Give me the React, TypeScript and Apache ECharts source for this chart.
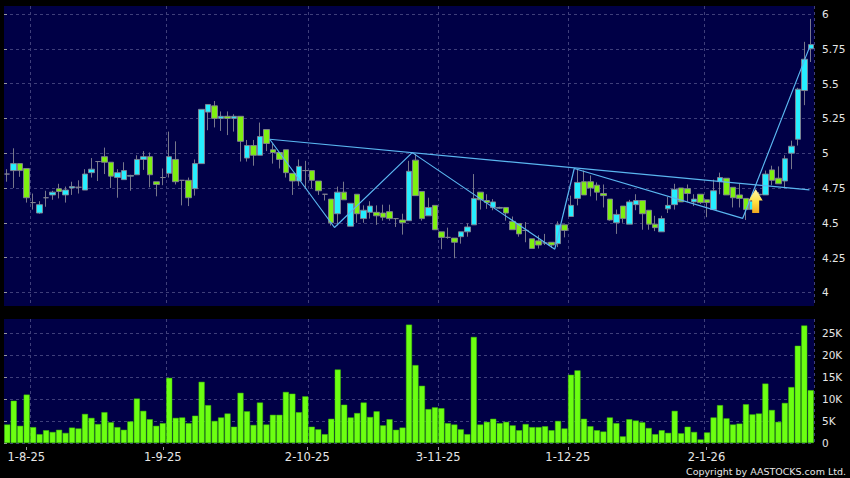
import React, { useEffect, useRef } from "react";
import * as echarts from "echarts";

const opens = [4.85,4.875,4.925,4.89,4.645,4.57,4.68,4.70,4.745,4.70,4.75,4.755,4.735,4.86,4.94,4.975,4.935,4.825,4.81,4.835,4.845,4.955,4.975,4.795,4.825,4.855,4.955,4.805,4.805,4.745,4.925,5.295,5.34,5.25,5.265,5.25,5.265,4.965,5.055,4.985,5.17,5.025,5.005,5.025,4.855,4.80,4.875,4.875,4.80,4.705,4.67,4.565,4.72,4.475,4.705,4.53,4.575,4.575,4.57,4.58,4.53,4.52,4.515,4.95,4.725,4.55,4.625,4.435,4.395,4.39,4.40,4.435,4.485,4.72,4.66,4.61,4.605,4.61,4.51,4.495,4.445,4.385,4.37,4.355,4.36,4.35,4.485,4.545,4.675,4.795,4.795,4.77,4.71,4.67,4.50,4.62,4.49,4.63,4.66,4.59,4.49,4.435,4.60,4.63,4.75,4.745,4.65,4.705,4.665,4.595,4.795,4.82,4.755,4.70,4.675,4.595,4.70,4.70,4.88,4.82,4.80,5.00,5.10,5.45,5.75];
const closes = [4.85,4.925,4.875,4.68,4.645,4.63,4.68,4.72,4.725,4.735,4.76,4.755,4.85,4.885,4.94,4.935,4.835,4.86,4.875,4.84,4.955,4.975,4.845,4.775,4.825,4.975,4.795,4.805,4.68,4.925,5.315,5.35,5.25,5.265,5.25,5.265,5.085,5.055,4.985,5.12,5.07,5.005,4.955,4.86,4.80,4.905,4.875,4.805,4.73,4.705,4.50,4.72,4.665,4.64,4.565,4.59,4.62,4.55,4.54,4.53,4.53,4.50,4.87,4.695,4.53,4.61,4.45,4.395,4.395,4.36,4.435,4.47,4.675,4.665,4.645,4.65,4.61,4.57,4.45,4.42,4.445,4.315,4.34,4.355,4.34,4.485,4.445,4.625,4.79,4.70,4.75,4.72,4.695,4.52,4.56,4.53,4.65,4.66,4.565,4.49,4.465,4.53,4.625,4.74,4.65,4.71,4.67,4.645,4.645,4.73,4.825,4.70,4.68,4.675,4.595,4.655,4.705,4.85,4.805,4.78,4.96,5.05,5.46,5.675,5.78];
const lows = [4.795,4.75,4.83,4.645,4.595,4.565,4.615,4.665,4.675,4.645,4.70,4.71,4.735,4.825,4.80,4.85,4.75,4.68,4.81,4.73,4.845,4.88,4.755,4.69,4.77,4.825,4.775,4.625,4.62,4.695,4.925,5.165,5.185,5.16,5.13,5.155,4.94,4.94,4.91,4.985,5.015,4.925,4.89,4.825,4.70,4.765,4.745,4.75,4.70,4.66,4.48,4.48,4.665,4.475,4.50,4.50,4.53,4.485,4.515,4.515,4.47,4.415,4.515,4.695,4.515,4.55,4.45,4.31,4.385,4.245,4.35,4.40,4.485,4.595,4.60,4.59,4.60,4.515,4.45,4.40,4.36,4.315,4.315,4.34,4.32,4.325,4.395,4.545,4.625,4.70,4.69,4.66,4.61,4.515,4.42,4.50,4.49,4.59,4.45,4.45,4.44,4.435,4.57,4.595,4.65,4.65,4.62,4.635,4.54,4.595,4.705,4.70,4.61,4.61,4.52,4.595,4.66,4.70,4.77,4.78,4.755,4.885,5.055,5.345,5.655];
const highs = [4.885,5.035,4.925,4.89,4.71,4.655,4.73,4.73,4.78,4.76,4.795,4.805,4.885,4.965,4.94,5.04,4.935,4.885,4.935,4.845,4.985,5.015,5.005,4.795,4.89,5.155,5.085,4.805,4.825,4.955,5.315,5.35,5.375,5.30,5.30,5.28,5.265,5.095,5.095,5.22,5.17,5.07,5.005,5.025,4.855,4.955,4.945,4.875,4.80,4.705,4.67,4.76,4.795,4.64,4.705,4.625,4.655,4.625,4.63,4.63,4.53,4.565,4.945,4.995,4.725,4.68,4.625,4.435,4.465,4.39,4.435,4.495,4.85,4.72,4.705,4.67,4.615,4.61,4.545,4.495,4.505,4.385,4.41,4.42,4.36,4.51,4.485,4.695,4.885,4.875,4.84,4.79,4.775,4.67,4.595,4.62,4.665,4.705,4.66,4.59,4.55,4.55,4.685,4.78,4.75,4.775,4.705,4.705,4.665,4.81,4.86,4.82,4.755,4.78,4.675,4.72,4.72,4.875,4.91,4.905,4.985,5.09,5.47,5.80,5.965];
const volumes = [4.2,9.6,3.9,11.0,3.6,2.0,2.9,2.5,3.0,2.3,3.5,3.3,6.6,5.7,4.3,7.0,4.7,3.6,3.0,4.9,10.1,7.3,5.4,3.9,4.5,14.8,5.7,5.8,4.5,6.2,13.9,8.6,5.0,5.8,6.7,3.7,11.4,7.2,4.1,9.2,4.2,6.4,6.4,11.6,11.2,7.0,10.6,3.7,3.1,2.0,5.5,16.7,8.7,5.8,6.8,9.2,5.9,7.2,4.0,5.4,3.0,3.5,26.9,17.7,13.0,7.7,8.1,7.9,4.5,4.2,3.1,2.0,24.1,4.2,4.8,5.5,4.5,4.8,4.0,2.9,4.3,3.6,3.6,3.8,2.9,5.0,3.3,15.5,16.5,5.5,3.8,2.9,2.6,5.8,4.5,1.5,5.4,5.1,4.7,3.4,2.0,2.9,2.3,7.3,2.2,3.7,2.5,0.8,2.4,5.8,8.6,5.6,4.2,4.4,8.8,6.5,6.7,13.5,7.5,4.8,9.1,12.7,22.1,26.7,12.0];

const dateLabels = ["1-8-25", "1-9-25", "2-10-25", "3-11-25", "1-12-25", "2-1-26"];
const dateTickPositions = [3.44, 24.5, 46.8, 67.0, 87.0, 108.4];
const monthGridBands = [4, 25, 47, 67, 87, 108];
const priceTicks = [4, 4.25, 4.5, 4.75, 5, 5.25, 5.5, 5.75, 6];
const volumeTicks = [0, 5, 10, 15, 20, 25];
const zigzag = [[41, 5.1], [51, 4.466], [63, 5.004], [85, 4.31], [88, 4.89], [114, 4.532], [124.3, 5.76]];
const neckline = [[41, 5.1], [124.3, 4.736]];
const arrowPoint = [[116, 4.657]];
const copyright = "Copyright by AASTOCKS.com Ltd.";

const indices = opens.map((_, i) => String(i));
const FONT = "DejaVu Sans";
const GRID_LINE = { show: true, lineStyle: { color: "#3f3f7a", type: [3, 3] as any, width: 1 } };
const ARROW = "path://M7 0 L14 11 L10.5 11 L10.5 23 L3.5 23 L3.5 11 L0 11 Z";

export default function App() {
  const ref = useRef<HTMLDivElement>(null);
  useEffect(() => {
    const chart = echarts.init(ref.current!, undefined, { renderer: "svg" });
    const vGrid = {
      ...GRID_LINE,
      interval: (i: number) => monthGridBands.includes(i),
    };
    const panelX = (gridIndex: number) => ({
      type: "category" as const,
      gridIndex,
      data: indices,
      boundaryGap: true,
      axisLine: { show: false },
      axisTick: { show: false },
      axisLabel: { show: false },
      splitLine: vGrid,
    });
    const panelY = (
      gridIndex: number,
      min: number,
      max: number,
      ticks: number[],
      fmt: (v: number) => string
    ) => ({
      type: "value" as const,
      gridIndex,
      position: "right" as const,
      offset: 4,
      min,
      max,
      axisLine: { show: false },
      axisTick: { show: true, length: 3, customValues: ticks, lineStyle: { color: "#999" } },
      axisLabel: {
        show: true,
        customValues: ticks,
        margin: 4,
        color: "#e6e6e6",
        fontFamily: FONT,
        fontSize: 10.5,
        formatter: fmt,
      },
      splitLine: GRID_LINE,
    });
    chart.setOption({
      animation: false,
      backgroundColor: "#000000",
      grid: [
        { left: 4, top: 6, width: 810, height: 300, show: true, backgroundColor: "#000046", borderWidth: 0 },
        { left: 4, top: 319, width: 810, height: 124, show: true, backgroundColor: "#000046", borderWidth: 0 },
      ],
      xAxis: [
        panelX(0),
        { type: "value", gridIndex: 0, min: 0, max: 125, show: false },
        panelX(1),
        {
          type: "value",
          gridIndex: 1,
          position: "bottom",
          offset: 4,
          min: 0,
          max: 125,
          axisLine: { show: false },
          splitLine: { show: false },
          axisTick: { show: true, length: 3, customValues: dateTickPositions, lineStyle: { color: "#999" } },
          axisLabel: {
            show: true,
            customValues: dateTickPositions,
            margin: 4,
            color: "#e6e6e6",
            fontFamily: FONT,
            fontSize: 11.5,
            formatter: (v: number) => dateLabels[dateTickPositions.indexOf(v)] ?? "",
          },
        },
      ],
      yAxis: [
        panelY(0, 3.902, 6.0575, priceTicks, (v) => String(v)),
        panelY(1, 0, 28.18, volumeTicks, (v) => (v === 0 ? "0" : `${v}K`)),
      ],
      series: [
        {
          type: "candlestick",
          xAxisIndex: 0,
          yAxisIndex: 0,
          barWidth: 6,
          z: 2,
          data: opens.map((o, i) => [o, closes[i], lows[i], highs[i]]),
          itemStyle: {
            color: "#26EEFF",
            color0: "#7EF010",
            borderColor: "#858592",
            borderColor0: "#858592",
            borderColorDoji: "#858592",
            borderWidth: 0.9,
          },
        },
        {
          type: "line",
          xAxisIndex: 1,
          yAxisIndex: 0,
          data: zigzag,
          showSymbol: false,
          silent: true,
          z: 3,
          lineStyle: { color: "#5AB6F0", width: 1.2 },
        },
        {
          type: "line",
          xAxisIndex: 1,
          yAxisIndex: 0,
          data: neckline,
          showSymbol: false,
          silent: true,
          z: 3,
          lineStyle: { color: "#5AB6F0", width: 1.2 },
        },
        {
          type: "scatter",
          xAxisIndex: 1,
          yAxisIndex: 0,
          data: arrowPoint,
          symbol: ARROW,
          symbolSize: [14, 24],
          silent: true,
          z: 4,
          itemStyle: {
            opacity: 1,
            color: new echarts.graphic.LinearGradient(0, 0, 0, 1, [
              { offset: 0, color: "#FFF8B0" },
              { offset: 0.55, color: "#FFE040" },
              { offset: 1, color: "#F0A820" },
            ]),
          },
        },
        {
          type: "bar",
          xAxisIndex: 2,
          yAxisIndex: 1,
          barWidth: 6,
          data: volumes,
          itemStyle: { color: "#6CFF12", borderColor: "#3FC400", borderWidth: 0.5 },
        },
      ],
      graphic: [
        {
          type: "text",
          right: 4,
          top: 466,
          style: { text: copyright, fill: "#e6e6e6", font: `9.5px "${FONT}"` },
        },
      ],
    });
    return () => chart.dispose();
  }, []);
  return (
    <div
      ref={ref}
      style={{ position: "absolute", left: 0, top: 0, width: 850, height: 478, background: "#000" }}
    />
  );
}
